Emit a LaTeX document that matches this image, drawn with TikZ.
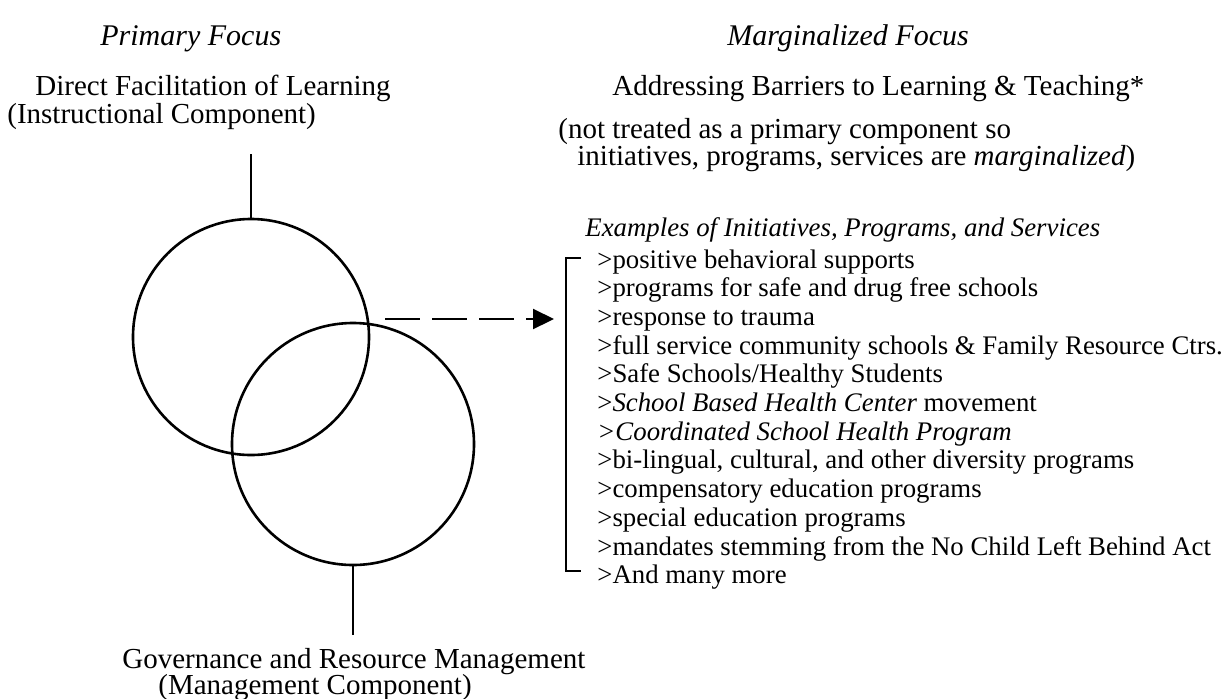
\documentclass[tikz,border=0pt]{standalone}
\usepackage{fontspec}
\setmainfont{Liberation Serif}
\usetikzlibrary{arrows.meta}

\begin{document}
\begin{tikzpicture}[x=0.5pt,y=-0.5pt]
\tikzset{txt/.style={inner sep=0pt,anchor=base west,font=\fontsize{13.4}{14.35}\selectfont}}
\tikzset{bigtxt/.style={txt,font=\fontsize{14.5}{16}\selectfont}}
\tikzset{headtxt/.style={txt,font=\fontsize{15}{16}\selectfont\itshape}}
\tikzset{ring/.style={circle,draw,line width=1.3pt,inner sep=0pt,outer sep=0pt}}
\tikzset{tick/.style={line width=1pt}}

\useasboundingbox (0,0) rectangle (1228,698);

\node[headtxt] (primary) at (100,45) {Primary Focus};
\node[headtxt] (marginal) at (727,45) {Marginalized Focus};

\node[bigtxt] (direct) at (35,95) {Direct Facilitation of Learning};
\node[bigtxt] (instr) at (7,123) {(Instructional Component)};

\node[bigtxt] (address) at (612,95) {Addressing Barriers to Learning \& Teaching*};
\node[bigtxt] (nottreated) at (558,138) {(not treated as a primary component so};
\node[bigtxt] (initiatives) at (577,165) {initiatives, programs, services are \textit{marginalized})};

\node[txt] (examples) at (585,236) {\itshape Examples of Initiatives, Programs, and Services};
\node[txt] (ex1) at (597,268) {>positive behavioral supports};
\node[txt] (ex2) at (597,296.7) {>programs for safe and drug free schools};
\node[txt] (ex3) at (597,325.4) {>response to trauma};
\node[txt] (ex4) at (597,354.1) {>full service community schools \& Family Resource Ctrs.};
\node[txt] (ex5) at (597,382.8) {>Safe Schools/Healthy Students};
\node[txt] (ex6) at (597,411.5) {>\textit{School Based Health Center} movement};
\node[txt] (ex7) at (597,440.2) {\itshape >Coordinated School Health Program};
\node[txt] (ex8) at (597,468.9) {>bi-lingual, cultural, and other diversity programs};
\node[txt] (ex9) at (597,497.6) {>compensatory education programs};
\node[txt] (ex10) at (597,526.3) {>special education programs};
\node[txt] (ex11) at (597,555) {>mandates stemming from the No Child Left Behind Act};
\node[txt] (ex12) at (597,583.7) {>And many more};

\node[bigtxt] (govern) at (122,668) {Governance and Resource Management};
\node[bigtxt] (mgmt) at (158,694) {(Management Component)};

\node[ring,minimum size=118pt] (instcirc) at (251,337) {};
\node[ring,minimum size=121pt] (mgmtcirc) at (353,444) {};

\coordinate (instend) at (251,154);
\coordinate (mgmtend) at (353,635);
\draw[tick] (instend) -- (instcirc.north);
\draw[tick] (mgmtcirc.south) -- (mgmtend);

\coordinate (dashfrom) at (385,319);
\coordinate (dashto) at (554,319);
\draw[line width=1.1pt,dash pattern=on 17.5pt off 6pt,-{Triangle[length=10.5pt,width=10pt]}] (dashfrom) -- (dashto);

\coordinate (brtop) at (581,258);
\coordinate (brbot) at (581,571);
\draw[line width=1.2pt] (brtop) -- ++(-15,0) |- (brbot);

\end{tikzpicture}
\end{document}
